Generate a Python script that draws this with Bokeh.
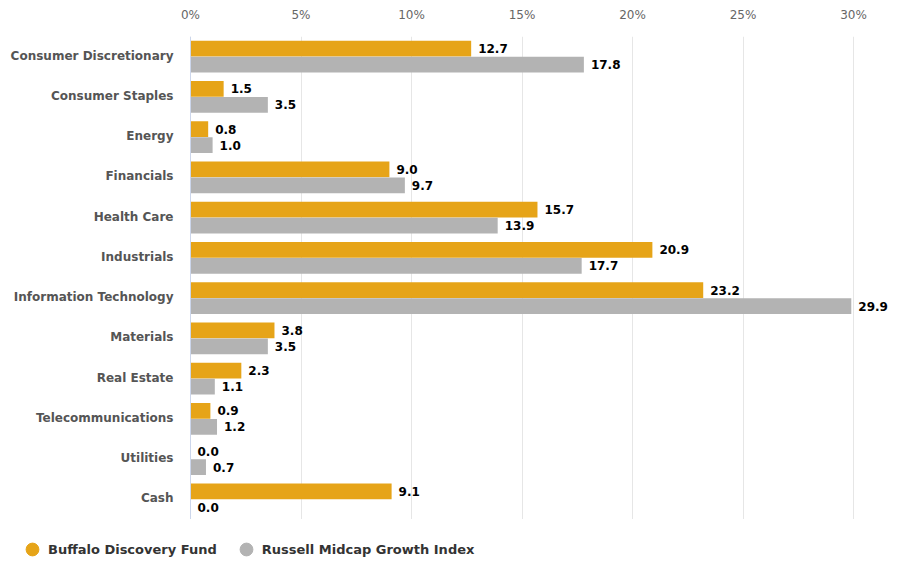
from bokeh.plotting import figure
from bokeh.layouts import column
from bokeh.models import (ColumnDataSource, LabelSet, Legend, LegendItem, FactorRange,
                          FixedTicker, CustomJSTickFormatter, Range1d, Span)
from bokeh.core.properties import value
from bokeh.transform import dodge
from bokeh.embed import file_html
from bokeh.resources import INLINE

categories = ["Consumer Discretionary", "Consumer Staples", "Energy", "Financials",
              "Health Care", "Industrials", "Information Technology", "Materials",
              "Real Estate", "Telecommunications", "Utilities", "Cash"]
fund = [12.7, 1.5, 0.8, 9.0, 15.7, 20.9, 23.2, 3.8, 2.3, 0.9, 0.0, 9.1]
index = [17.8, 3.5, 1.0, 9.7, 13.9, 17.7, 29.9, 3.5, 1.1, 1.2, 0.7, 0.0]
series_names = ["Buffalo Discovery Fund", "Russell Midcap Growth Index"]
x_ticks = [0, 5, 10, 15, 20, 25, 30]

ORANGE = "#E6A418"
GREY = "#B3B3B3"
FONT = "DejaVu Sans"

# layout: frame covers the full width; 0% sits at x=190 px and 30% at x=853 px
W, H_MAIN, H_LEG = 899, 519, 42
X0_PX, X30_PX, RIGHT_PAD = 190, 853, 4
px_per_unit = (X30_PX - X0_PX) / 30.0
x_start = -X0_PX / px_per_unit
x_end = (W - RIGHT_PAD - X0_PX) / px_per_unit

src = ColumnDataSource(dict(
    cat=categories,
    fund=fund,
    index=index,
    fund_lbl=[f"{v:.1f}" for v in fund],
    index_lbl=[f"{v:.1f}" for v in index],
    zero=[0] * len(categories),
))

p = figure(width=W, height=H_MAIN, output_backend="svg", toolbar_location=None,
           y_range=FactorRange(factors=list(reversed(categories)), range_padding=0),
           x_range=Range1d(x_start, x_end), x_axis_location="above", y_axis_type=None,
           min_border_left=0, min_border_right=RIGHT_PAD, min_border_top=36, min_border_bottom=0)
p.outline_line_color = None
p.background_fill_color = "white"
p.border_fill_color = "white"

p.xgrid.grid_line_color = "#E6E6E6"
p.xgrid.ticker = FixedTicker(ticks=x_ticks)
p.ygrid.grid_line_color = None

# category axis line at 0%
p.add_layout(Span(location=0, dimension="height", line_color="#CCD6EB", line_width=1))

p.hbar(y=dodge("cat", 0.2, range=p.y_range), right="fund", left=0, height=0.39,
       color=ORANGE, line_color=None, source=src)
p.hbar(y=dodge("cat", -0.2, range=p.y_range), right="index", left=0, height=0.39,
       color=GREY, line_color=None, source=src)

# category labels
p.add_layout(LabelSet(x="zero", y="cat", text="cat", source=src,
                      x_offset=-17, y_offset=1, text_baseline="middle", text_align="right",
                      text_font=value(FONT), text_font_style="bold", text_font_size="12px",
                      text_color="#555555"))

# data labels
for col, lbl, off in (("fund", "fund_lbl", 0.2), ("index", "index_lbl", -0.2)):
    p.add_layout(LabelSet(x=col, y=dodge("cat", off, range=p.y_range), text=lbl, source=src,
                          x_offset=7, y_offset=0, text_baseline="middle", text_align="left",
                          text_font=value(FONT), text_font_style="bold", text_font_size="12px",
                          text_color="#000000"))

xa = p.xaxis[0]
xa.ticker = FixedTicker(ticks=x_ticks)
xa.formatter = CustomJSTickFormatter(code="return tick + '%'")
xa.axis_line_color = None
xa.major_tick_line_color = None
xa.minor_tick_line_color = None
xa.major_label_text_font = FONT
xa.major_label_text_font_size = "12px"
xa.major_label_text_color = "#666666"
xa.major_label_standoff = 9

# legend strip below the chart
lf = figure(width=W, height=H_LEG, output_backend="svg", toolbar_location=None,
            x_range=Range1d(0, 1), y_range=Range1d(0, 1),
            x_axis_type=None, y_axis_type=None,
            min_border_left=0, min_border_right=RIGHT_PAD, min_border_top=0, min_border_bottom=0)
lf.outline_line_color = None
lf.xgrid.grid_line_color = None
lf.ygrid.grid_line_color = None
lf.background_fill_color = "white"
lf.border_fill_color = "white"
nan = float("nan")
r1 = lf.scatter(x=[nan], y=[nan], marker="circle", size=13, color=ORANGE)
r2 = lf.scatter(x=[nan], y=[nan], marker="circle", size=13, color=GREY)
legend = Legend(items=[LegendItem(label=series_names[0], renderers=[r1]),
                       LegendItem(label=series_names[1], renderers=[r2])],
                orientation="horizontal", location=(16, -4),
                label_text_font=FONT, label_text_font_style="bold", label_text_font_size="13px",
                label_text_color="#333333", glyph_width=32, glyph_height=32,
                spacing=13, padding=0, margin=0, border_line_color=None,
                background_fill_alpha=0, label_standoff=0)
lf.add_layout(legend, "center")

layout = column(p, lf, spacing=0)
open("out.html", "w").write(file_html(layout, INLINE))
